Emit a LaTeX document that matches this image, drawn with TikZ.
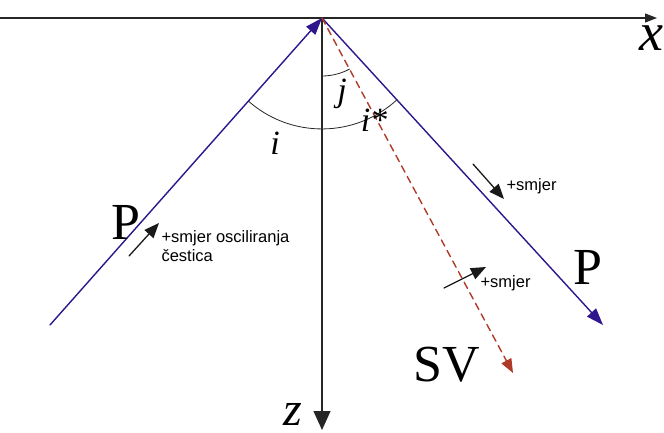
\documentclass[tikz,border=0pt]{standalone}
\usepackage{fontspec}
\setmainfont{Liberation Serif}
\newfontfamily\smjerfont{Liberation Sans}
\usetikzlibrary{calc,arrows.meta}

\begin{document}
\begin{tikzpicture}[x=1pt, y=1pt, line cap=round, line join=round]
  \useasboundingbox (0,0) rectangle (664,432);
  \definecolor{zrakaP}{RGB}{48,22,140}
  \definecolor{zrakaSV}{RGB}{176,58,40}
  \tikzset{
    os/.style={draw=black!85, line width=1.2pt},
    zraka/.style={draw=zrakaP, line width=1.4pt, -{Triangle[length=17pt,width=12pt]}},
    smjer/.style={draw=black!90, line width=1.3pt, -{Triangle[length=15pt,width=12pt]}},
    kut/.style={draw=black!85, line width=0.8pt},
    veliko/.style={font=\fontsize{52}{52}\selectfont},
    oznaka/.style={font=\fontsize{34}{34}\selectfont\itshape},
    tekst/.style={font=\fontsize{16.5}{18.5}\selectfont\smjerfont, align=left, anchor=west}
  }

  % ishodiste i krajevi zraka
  \coordinate (O) at (322,414);
  \coordinate (X0) at (0,414);
  \coordinate (X) at (657,414);
  \coordinate (Z) at (322,2);
  \coordinate (A) at (50,107);
  \coordinate (B) at (603,107);
  \coordinate (S) at (513,59);

  % osi
  \draw[os, -{Triangle[length=12pt,width=9pt]}] (X0) -- (X);
  \draw[os, -{Triangle[length=19pt,width=17pt]}] (O) -- (Z);
  \node[font=\fontsize{54}{54}\selectfont\itshape] (xlab) at (651,394) {x};
  \node[font=\fontsize{48}{48}\selectfont\itshape, inner sep=0pt, anchor=base] (zlab) at (293,7) {z};

  % upadna i odbijena P zraka
  \draw[zraka] (A) -- (O);
  \draw[zraka] (O) -- (B);

  % odbijena SV zraka
  \draw[draw=zrakaSV, line width=1.4pt, dash pattern=on 7pt off 5pt,
        -{Triangle[length=14pt,width=11pt]}] (O) -- (S);

  % kutovi
  \coordinate (Ai) at ($(O)!111pt!(A)$);
  \draw[kut] (Ai) arc[start angle=228.5, end angle=312.5, radius=111];
  \coordinate (Zj) at ($(O)!58pt!(Z)$);
  \draw[kut] (Zj) arc[start angle=270, end angle=298.3, radius=58];
  \node[oznaka] (ilab) at (275,289) {i};
  \node[oznaka] (jlab) at (342,338) {j};
  \node[oznaka] (izlab) at (374,312) {i*};

  % nazivi valova
  \node[veliko] (P1) at (126,210) {P};
  \node[veliko] (P2) at (588,165) {P};
  \node[veliko] (SV) at (447,67) {SV};

  % smjerovi osciliranja
  \coordinate (s1a) at (129,176);
  \coordinate (s1b) at (159,209);
  \coordinate (s2a) at (473,268);
  \coordinate (s2b) at (504,233);
  \coordinate (s3a) at (444,144);
  \coordinate (s3b) at (486,165);
  \foreach \p in {1,2,3} \draw[smjer] (s\p a) -- (s\p b);
  \node[tekst] (t1) at (158,186) {+smjer osciliranja\\čestica};
  \node[tekst] (t2) at (503,246) {+smjer};
  \node[tekst] (t3) at (477,149) {+smjer};
\end{tikzpicture}
\end{document}
